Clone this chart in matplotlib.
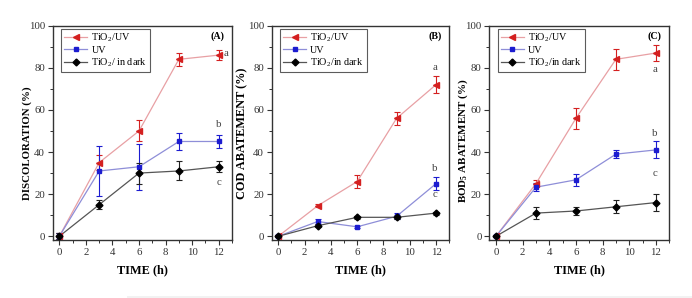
import matplotlib
matplotlib.use("Agg")
import matplotlib.pyplot as plt
from matplotlib.ticker import MultipleLocator
from matplotlib.lines import Line2D
from matplotlib.patches import Rectangle

plt.rcParams['font.family'] = ['Liberation Serif', 'DejaVu Serif']
plt.rcParams['mathtext.default'] = 'regular'

time = [0, 3, 6, 9, 12]

# Panel A: discoloration
a_uvtio2 = [0, 35, 50, 84, 86]
a_uvtio2_err = [1.5, 3.7, 5, 3, 2.5]
a_uv = [0, 31, 33, 45, 45]
a_uv_err = [1.5, 12, 11, 4, 3]
a_dark = [0, 15, 30, 31, 33]
a_dark_err = [1.5, 2, 5, 4.5, 2.7]

# Panel B: COD abatement
b_uvtio2 = [0, 14.5, 26, 56, 72]
b_uvtio2_err = [0.5, 0.7, 3, 3, 4]
b_uv = [0, 7, 4.5, 9.5, 25]
b_uv_err = [0.5, 1, 0.6, 1.5, 3]
b_dark = [0, 5, 9, 9, 11]
b_dark_err = [0.5, 0.6, 0.7, 1, 0.7]

# Panel C: BOD5 abatement
c_uvtio2 = [0, 25, 56, 84, 87]
c_uvtio2_err = [0.5, 1.5, 5, 5, 4]
c_uv = [0, 23.3, 26.8, 39, 41]
c_uv_err = [0.5, 2, 3, 2, 4]
c_dark = [0, 11, 12, 14, 16]
c_dark_err = [0.5, 3, 2, 3, 4]

series_labels = ['TiO$_2$/UV', 'UV', 'TiO$_2$/ in dark']
series_labels_bc = ['TiO$_2$/UV', 'UV', 'TiO$_2$/in dark']
ylabels = ['DISCOLORATION (%)', 'COD ABATEMENT (%)', 'BOD$_5$ ABATEMENT (%)']
panel_tags = ['(A)', '(B)', '(C)']
letter_pos = [
    [(12.55, 87), (12.0, 53), (12.0, 25.5)],
    [(11.9, 80), (11.9, 32), (11.9, 20)],
    [(11.9, 79), (11.9, 49), (11.9, 30)],
]
letters = ['a', 'b', 'c']

panels = [
    (a_uvtio2, a_uvtio2_err, a_uv, a_uv_err, a_dark, a_dark_err),
    (b_uvtio2, b_uvtio2_err, b_uv, b_uv_err, b_dark, b_dark_err),
    (c_uvtio2, c_uvtio2_err, c_uv, c_uv_err, c_dark, c_dark_err),
]

fig = plt.figure(figsize=(6.92, 2.98), dpi=100)
lefts = [0.0762, 0.3926, 0.7071]
widths = [0.259, 0.2566, 0.260]
ylabel_x = [-0.118, -0.13, -0.11]
ylabel_y = [0.453, 0.5, 0.463]
ylabel_fs = [7.8, 8.8, 7.9]

styles = [
    dict(marker='<', mfc='#d42020', mec='#d42020', line='#e8a0a4', ecol='#d42020', ms=4.5),
    dict(marker='s', mfc='#1c1cd0', mec='#1c1cd0', line='#8e8ed8', ecol='#1c1cd0', ms=3.5),
    dict(marker='D', mfc='black', mec='black', line='#555555', ecol='#222222', ms=3.5),
]

for i, (vals) in enumerate(panels):
    ax = fig.add_axes([lefts[i], 0.193, widths[i], 0.721])
    ys = [vals[0], vals[2], vals[4]]
    es = [vals[1], vals[3], vals[5]]
    labs = series_labels if i == 0 else series_labels_bc
    handles = []
    for y, e, st, lab in zip(ys, es, styles, labs):
        ax.errorbar(time, y, yerr=e, fmt='none', ecolor=st['ecol'], elinewidth=0.8,
                    capsize=2, capthick=0.8, zorder=2)
        ax.plot(time, y, color=st['line'], lw=0.9, zorder=3)
        ax.plot(time, y, ls='none', marker=st['marker'], mfc=st['mfc'], mec=st['mec'],
                ms=st['ms'], zorder=4)
        handles.append(Line2D([], [], color=st['line'], lw=0.9, marker=st['marker'],
                              mfc=st['mfc'], mec=st['mec'], ms=st['ms']))
    ax.set_xlim(-0.5, 13)
    ax.set_ylim(-2, 100)
    ax.xaxis.set_major_locator(MultipleLocator(2))
    ax.xaxis.set_minor_locator(MultipleLocator(1))
    ax.yaxis.set_major_locator(MultipleLocator(20))
    ax.yaxis.set_minor_locator(MultipleLocator(10))
    ax.tick_params(which='major', direction='out', length=3.5, width=0.8,
                   labelsize=7.8, colors='#333333', pad=2)
    ax.tick_params(which='minor', direction='out', length=2, width=0.7, colors='#333333')
    for sp in ax.spines.values():
        sp.set_linewidth(1.0)
        sp.set_color('#333333')
    ax.set_xlabel('TIME (h)', fontsize=8.8, fontweight='bold')
    ax.xaxis.set_label_coords(0.5, -0.112)
    ax.xaxis.label.set_va('top')
    ax.set_ylabel(ylabels[i], fontsize=ylabel_fs[i], fontweight='bold')
    ax.yaxis.set_label_coords(ylabel_x[i], ylabel_y[i])
    ax.text(0.92, 0.95, panel_tags[i], transform=ax.transAxes, fontsize=7.2,
            fontweight='bold', ha='center', va='center')
    for (lx, ly), lt in zip(letter_pos[i], letters):
        ax.text(lx, ly, lt, fontsize=7.8, color='#444444', ha='center', va='center')
    leg = ax.legend(handles, labs, loc='upper left', bbox_to_anchor=(0.035, 0.995),
                    fontsize=7.3, frameon=True, fancybox=False, handlelength=2.3,
                    handletextpad=0.4, borderpad=0.3, labelspacing=0.15,
                    borderaxespad=0.2)
    leg.get_frame().set_edgecolor('#333333')
    leg.get_frame().set_linewidth(0.8)

fig.add_artist(Rectangle((127 / 692, 0), 1 - 127 / 692, 2 / 298, transform=fig.transFigure,
                         facecolor='#f2f2f2', edgecolor='none'))

fig.savefig('out.png', dpi=100)
